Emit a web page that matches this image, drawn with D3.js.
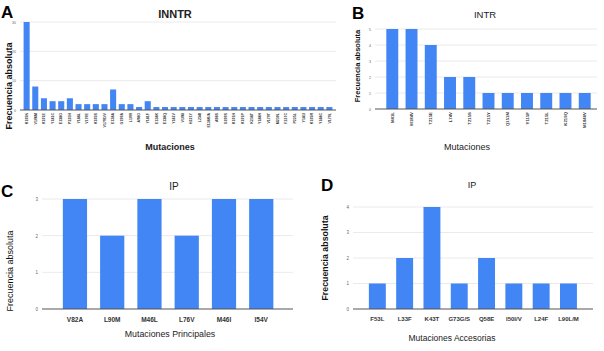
<!DOCTYPE html>
<html>
<head>
<meta charset="utf-8">
<script src="https://cdn.jsdelivr.net/npm/d3@7"></script>
<style>
  body { margin: 0; background: #fff; }
  svg { font-family: "Liberation Sans", Arial, sans-serif; display: block; }
  .grid line { stroke: #e4e4e4; stroke-width: 0.8; }
  .base { stroke: #555; stroke-width: 1; }
</style>
</head>
<body>
<svg id="chart" width="604" height="351"></svg>
<script>
// panel A - INNTR
const innLabels = ["K103N", "V106M", "K101E", "Y181C", "E138G", "P225H", "Y188L", "V179E", "K103S",
  "V179D/V", "E138A", "G190A", "L100I", "A98G", "Y181F", "E138K", "E138Q", "Y181V", "V106I",
  "H221Y", "L234I", "E138K/A", "A98S", "G190S", "K101H", "K101P", "K238T", "Y188H", "V179T",
  "M230L", "F227C", "P225L", "Y181I", "K103R", "Y188C", "V179L"];
const innValues = [30, 8, 4, 3, 3, 4, 2, 2, 2, 2, 7, 2, 2, 1, 3, 1, 1, 1, 1, 1, 1, 1, 1, 1, 1, 1,
  1, 1, 1, 1, 1, 1, 1, 1, 1, 1];
const innTicks = [0, 10, 20, 30];

// panel B - INTR
const inLabels = ["M41L", "M184V", "T215E", "L74V", "T215S", "T215Y", "Q151M", "Y115F", "T215L", "K219Q", "M184I/V"];
const inValues = [5, 5, 4, 2, 2, 1, 1, 1, 1, 1, 1];
const inTicks = [0, 1, 2, 3, 4, 5];

// panel C - IP principales
const ipPrinLabels = ["V82A", "L90M", "M46L", "L76V", "M46I", "I54V"];
const ipPrinValues = [3, 2, 3, 2, 3, 3];
const ipPrinTicks = [0, 1, 2, 3];

// panel D - IP accesorias
const ipAccLabels = ["F53L", "L33F", "K43T", "G73G/S", "Q58E", "I50I/V", "L24F", "L90L/M"];
const ipAccValues = [1, 2, 4, 1, 2, 1, 1, 1];
const ipAccTicks = [0, 1, 2, 3, 4];

const svg = d3.select("#chart");
const blue = "#4285f4";

function drawPanel(p) {
  const g = svg.append("g");
  const x = d3.scaleBand().domain(p.labels).range(p.xr).padding(p.pad);
  const y = d3.scaleLinear().domain([0, d3.max(p.ticks)]).range(p.yr);

  // gridlines
  g.append("g").attr("class", "grid")
    .selectAll("line").data(p.ticks.slice(1)).join("line")
      .attr("x1", p.gx[0]).attr("x2", p.gx[1])
      .attr("y1", d => y(d)).attr("y2", d => y(d));

  // y tick labels
  const ya = g.append("g")
    .attr("transform", "translate(" + p.gx[0] + ",0)")
    .call(d3.axisLeft(y).tickValues(p.ticks).tickFormat(d3.format("d")).tickSize(0).tickPadding(p.tpad));
  ya.select(".domain").remove();
  ya.selectAll("text").attr("font-size", p.tickFs).attr("fill", "#666").attr("font-family", null);

  // bars
  g.selectAll("rect.bar").data(p.values).join("rect")
    .attr("class", "bar")
    .attr("x", (d, i) => x(p.labels[i]))
    .attr("width", x.bandwidth())
    .attr("y", d => y(d))
    .attr("height", d => y(0) - y(d))
    .attr("fill", blue);

  g.append("line").attr("class", "base")
    .attr("x1", p.gx[0]).attr("x2", p.gx[1])
    .attr("y1", y(0)).attr("y2", y(0));

  // x labels
  const xa = g.append("g")
    .attr("transform", "translate(0," + y(0) + ")")
    .call(d3.axisBottom(x).tickSize(0).tickPadding(p.xpad));
  xa.select(".domain").remove();
  xa.selectAll("text")
    .attr("font-size", p.xFs)
    .attr("font-weight", "bold")
    .attr("fill", "#333")
    .attr("font-family", null);
  if (p.rotate) {
    xa.selectAll("text")
      .attr("transform", "rotate(-90)")
      .attr("text-anchor", "end")
      .attr("dy", "0.35em")
      .attr("x", -p.xpad)
      .attr("y", 0);
  }

  // titles
  g.append("text").attr("x", p.title[0]).attr("y", p.title[1])
    .attr("text-anchor", "middle").attr("font-size", p.title[3])
    .attr("font-weight", p.title[4]).attr("fill", "#222").text(p.title[2]);
  g.append("text").attr("x", p.xt[0]).attr("y", p.xt[1])
    .attr("text-anchor", "middle").attr("font-size", p.xt[3])
    .attr("font-weight", p.xt[4]).attr("fill", "#222").text(p.xt[2]);
  g.append("text")
    .attr("transform", "translate(" + p.yt[0] + "," + p.yt[1] + ") rotate(-90)")
    .attr("text-anchor", "middle").attr("font-size", p.yt[2])
    .attr("font-weight", p.yt[3]).attr("fill", "#111").text("Frecuencia absoluta");
  g.append("text").attr("x", p.letter[0]).attr("y", p.letter[1])
    .attr("font-size", 17).attr("font-weight", "bold").attr("fill", "#000").text(p.letter[2]);
}

drawPanel({
  labels: innLabels, values: innValues, ticks: innTicks,
  xr: [21, 335], pad: 0.3, yr: [110, 22], gx: [20, 336], tpad: 4, tickFs: 3.5,
  xFs: 3.6, xpad: 3, rotate: true,
  title: [175, 18, "INNTR", 11, "bold"], xt: [170, 150, "Mutaciones", 9, "bold"],
  yt: [12, 86, 9, "bold"], letter: [1, 18, "A"]
});

drawPanel({
  labels: inLabels, values: inValues, ticks: inTicks,
  xr: [379, 598], pad: 0.38, yr: [109, 29], gx: [375, 597], tpad: 4, tickFs: 3.6,
  xFs: 4.3, xpad: 3, rotate: true,
  title: [485, 18, "INTR", 9.5, "normal"], xt: [467, 150, "Mutaciones", 9, "normal"],
  yt: [360, 66, 7.5, "bold"], letter: [352, 19, "B"]
});

drawPanel({
  labels: ipPrinLabels, values: ipPrinValues, ticks: ipPrinTicks,
  xr: [49.8, 286.4], pad: 0.35, yr: [309, 199], gx: [42, 293], tpad: 4, tickFs: 4.5,
  xFs: 6.5, xpad: 8, rotate: false,
  title: [174, 190, "IP", 10, "normal"], xt: [170, 337, "Mutaciones Principales", 8.8, "normal"],
  yt: [13, 271, 9, "normal"], letter: [1, 197, "C"]
});

drawPanel({
  labels: ipAccLabels, values: ipAccValues, ticks: ipAccTicks,
  xr: [358.5, 587.3], pad: 0.38, yr: [309, 207], gx: [353, 593], tpad: 4, tickFs: 4.5,
  xFs: 6, xpad: 8, rotate: false,
  title: [472, 188, "IP", 9, "normal"], xt: [452, 341, "Mutaciones Accesorias", 8.5, "normal"],
  yt: [328, 258, 8.8, "bold"], letter: [321, 191, "D"]
});
</script>
</body>
</html>
